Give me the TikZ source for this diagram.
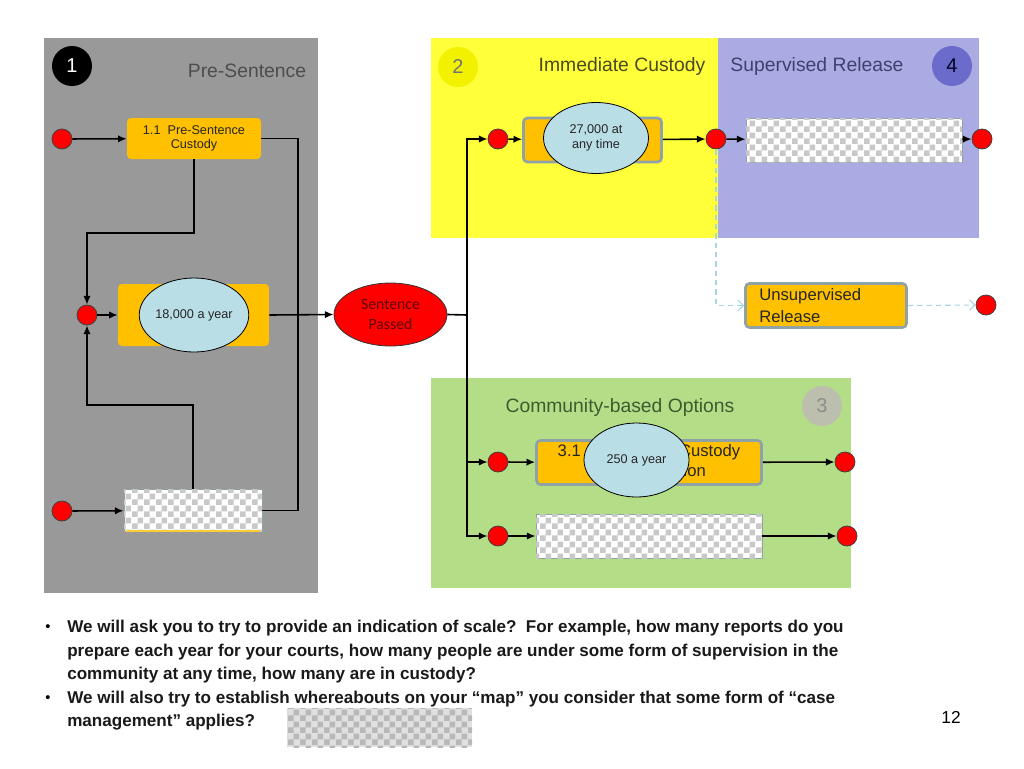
\documentclass[tikz,border=0pt]{standalone}
\usepackage{fontspec}
\setmainfont{Liberation Sans}
\newfontfamily\calib{Carlito}
\usetikzlibrary{shapes.geometric,arrows.meta,patterns}
\definecolor{pgray}{HTML}{999999}
\definecolor{pyel}{HTML}{FFFF3A}
\definecolor{cyel}{HTML}{F2F200}
\definecolor{ppur}{HTML}{ABABE3}
\definecolor{cpur}{HTML}{6B6BCB}
\definecolor{pgrn}{HTML}{B3DE87}
\definecolor{cgrn}{HTML}{BDBFAE}
\definecolor{orng}{HTML}{FFC000}
\definecolor{bordg}{HTML}{8FA2A5}
\definecolor{lblue}{HTML}{B9DEE6}
\definecolor{dblue}{HTML}{A6D6E4}
\definecolor{chkc}{HTML}{C8C8C8}
\definecolor{tgray}{HTML}{4D4D4D}
\definecolor{tyel}{HTML}{4A4A22}
\definecolor{tpur}{HTML}{404070}
\definecolor{tgrn}{HTML}{3D5C30}
\definecolor{spred}{HTML}{FF0000}
\definecolor{sptxt}{HTML}{5E0000}
\pgfdeclarepatternformonly{mychk}{\pgfpointorigin}{\pgfqpoint{9pt}{9pt}}{\pgfqpoint{9pt}{9pt}}{%
  \pgfpathrectangle{\pgfpointorigin}{\pgfqpoint{4.5pt}{4.5pt}}%
  \pgfpathrectangle{\pgfqpoint{4.5pt}{4.5pt}}{\pgfqpoint{4.5pt}{4.5pt}}%
  \pgfusepath{fill}}
\begin{document}
\begin{tikzpicture}[x=0.75pt,y=-0.75pt,
  sz/.style 2 args={minimum width=#1*0.75pt, minimum height=#2*0.75pt},
  dot/.style={circle, fill=spred, draw=black!75, line width=0.6pt, minimum size=15pt, inner sep=0pt},
  obox/.style={rectangle, rounded corners=3pt, fill=orng, inner sep=2pt, align=center, text=black!85, font=\fontsize{9.5}{11}\selectfont},
  gbord/.style={draw=bordg, line width=2pt},
  ell/.style={ellipse, fill=lblue, draw=black, line width=0.6pt, inner sep=0pt, align=center, text=black!85, font=\fontsize{9.5}{11.5}\selectfont},
  chk/.style={rectangle, fill=white, draw=bordg, line width=0.6pt, postaction={pattern=mychk, pattern color=chkc}},
  chksmall/.style={rectangle, fill=black!12, postaction={pattern=mychk, pattern color=black!28}},
  arr/.style={line width=1.2pt, -{Latex[length=6.5pt,width=5.5pt]}},
  ln/.style={line width=1.2pt},
  dsh/.style={draw=dblue, line width=0.8pt, dash pattern=on 4pt off 3pt, -{Straight Barb[length=4pt,width=8pt]}},
  numc/.style={circle, minimum size=30pt, inner sep=0pt, font=\fontsize{15}{15}\selectfont},
  ttl/.style={inner sep=0pt, font=\fontsize{14.5}{15}\selectfont},
  btxt/.style={inner sep=0pt, anchor=west, font=\fontsize{12.8}{14}\selectfont\bfseries, text=black!90}
]
\useasboundingbox (0,0) rectangle (1024,768);
\fill[white] (0,0) rectangle (1024,768);

% panels
\fill[pgray] (44,38) rectangle (318,593);
\fill[pyel] (431,38) rectangle (718,238);
\fill[ppur] (718,38) rectangle (979,238);
\fill[pgrn] (431,378) rectangle (851,588);

% titles and numbers
\node[numc, fill=black, text=white] (n1) at (72,66) {1};
\node[ttl, text=tgray] (t1) at (247,71) {Pre-Sentence};
\node[numc, fill=cyel, text=black!55] (n2) at (458,67) {2};
\node[ttl, text=tyel] (t2) at (622,66) {Immediate Custody};
\node[ttl, text=tpur] (t4) at (817,66) {Supervised Release};
\node[numc, fill=cpur, text=black!85!blue] (n4) at (952,66) {4};
\node[ttl, text=tgrn] (t3) at (620,407) {Community-based Options};
\node[numc, fill=cgrn, text=black!45] (n3) at (822,406) {3};

% pre-sentence nodes
\node[dot] (dA) at (62,139) {};
\node[obox, sz={134}{41}] (b11) at (194,138.5) {1.1\ \ Pre-Sentence\\Custody};
\node[dot] (dB) at (87,315) {};
\node[obox, sz={151}{62}] (b12) at (193.5,315) {};
\node[ell, sz={106}{74}] (e12) at (194,315) {18,000 a year};
\node[dot] (dC) at (62,511) {};
\node[chk, sz={138}{42}] (b13) at (193,510.5) {};
\draw[orng!80, line width=1pt] (b13.south west) ++(2,-1) -- ([xshift=-1.5pt,yshift=0.75pt]b13.south east);

\coordinate (j1) at (298,138.5);
\coordinate (j2) at (87,233);
\coordinate (j3) at (87,405);
\draw[arr] (dA) -- (b11);
\draw[ln] (b11.east) -- (j1) |- (b13.east);
\draw[arr] (b11.south) |- (j2) -- (dB);
\draw[arr] (b13.north) |- (j3) -- (dB);
\draw[arr] (dB) -- (b12);
\draw[arr] (dC) -- (b13);

% sentence passed
\node[ellipse, fill=spred, draw=black!80, line width=0.6pt, sz={113}{63}, inner sep=0pt, align=center, text=sptxt, font=\calib\fontsize{11.8}{14.5}\selectfont] (sp) at (390.5,314.5) {Sentence\\Passed};
\draw[arr] (b12.east) -- (sp.west);
\coordinate (j4) at (467,315);
\draw[ln] (sp.east) -- (j4);

% immediate custody / supervised release
\node[dot] (d2in) at (498,139) {};
\node[obox, gbord, sz={138}{44}] (b21) at (592.5,140) {};
\node[ell, sz={105}{71}] (e21) at (596,138) {27,000 at\\any time};
\node[dot] (d2out) at (716,139) {};
\node[chk, sz={216}{44}] (b41) at (854,140) {};
\node[dot] (d4out) at (982,139) {};
\node[obox, gbord, sz={161}{44}, align=left, text width=100pt, font=\fontsize{12.5}{16}\selectfont] (bU) at (826,305.5) {Unsupervised\\Release};
\node[dot] (dU) at (986,305) {};

\draw[arr] (j4) |- (d2in);
\draw[arr] (d2in) -- (b21);
\draw[arr] (b21) -- (d2out);
\draw[arr] (d2out) -- (b41);
\draw[arr] (b41) -- (d4out);
\draw[dsh] (d2out.south) |- (bU.west);
\draw[dsh] (bU.east) -- (dU);

% community-based options
\node[dot] (d31in) at (498,462) {};
\node[obox, gbord, sz={225}{44}, font=\fontsize{12.5}{15}\selectfont] (b31) at (649,462.5) {3.1\ \ Suspended Custody\\\hspace*{20pt}Supervision};
\node[ell, sz={105}{74}] (e31) at (636.5,460) {250 a year};
\node[dot] (d31out) at (845,462) {};
\node[dot] (d32in) at (498,536) {};
\node[chk, sz={226}{44}] (b32) at (649,536) {};
\node[dot] (d32out) at (847,536) {};

\draw[arr] (j4) |- (d31in);
\draw[arr] (j4) |- (d32in);
\draw[arr] (d31in) -- (b31);
\draw[arr] (b31) -- (d31out);
\draw[arr] (d32in) -- (b32);
\draw[arr] (b32) -- (d32out);

% bottom text
\node[inner sep=0pt, font=\fontsize{11}{13}\selectfont] (bu1) at (48,628) {•};
\node[btxt] (l1) at (67,628) {We will ask you to try to provide an indication of scale?\ \ For example, how many reports do you};
\node[btxt] (l2) at (67,652) {prepare each year for your courts, how many people are under some form of supervision in the};
\node[btxt] (l3) at (67,675) {community at any time, how many are in custody?};
\node[inner sep=0pt, font=\fontsize{11}{13}\selectfont] (bu2) at (48,699) {•};
\node[btxt] (l4) at (67,699) {We will also try to establish whereabouts on your “map” you consider that some form of “case};
\node[btxt] (l5) at (67,722) {management” applies?};
\node[chksmall, sz={185}{39}] (cb) at (379.5,727.5) {};
\node[inner sep=0pt, font=\fontsize{13}{13}\selectfont] (pg) at (951,717) {12};
\end{tikzpicture}
\end{document}
